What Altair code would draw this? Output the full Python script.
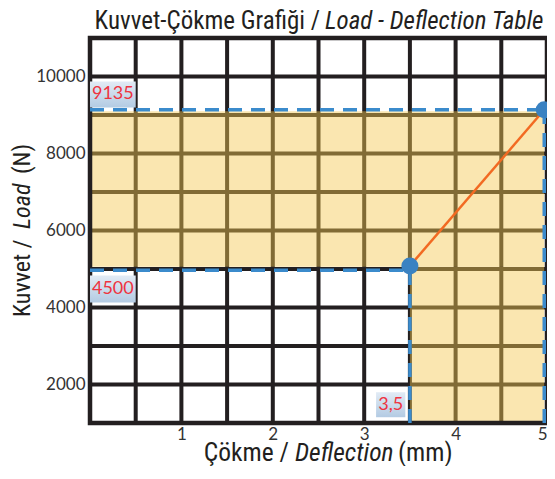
import altair as alt
import pandas as pd

# ---- data ----
x_ticks = [1, 2, 3, 4, 5]
y_ticks = [2000, 4000, 6000, 8000, 10000]
grid_x = [0.5, 1, 1.5, 2, 2.5, 3, 3.5, 4, 4.5]
grid_y = [2000, 3000, 4000, 5000, 6000, 7000, 8000, 9000, 10000]
x_domain = [0, 5]
y_domain = [1000, 11000]

# curve points (deflection mm, load N)
pt_x = [3.5, 4.97]
pt_y = [5080, 9135]

# shaded zones (x, x2, y, y2)
zone_x = [0, 3.5]
zone_x2 = [4.97, 4.97]
zone_y = [5060, 1000]
zone_y2 = [9100, 5060]

# dashed guide lines (x, x2, y, y2)
guide_x = [0, 4.97, 0, 3.5]
guide_x2 = [4.97, 4.97, 3.5, 3.5]
guide_y = [9135, 1000, 4970, 1000]
guide_y2 = [9135, 9135, 4970, 4970]

# annotation boxes
box_text = ["9135", "4500", "3,5"]
box_x = [0, 0, 3.13]
box_x2 = [0.5, 0.5, 3.45]
box_y = [9195, 4130, 1150]
box_y2 = [9870, 4830, 1800]

W, H = 457, 385
COND = "Roboto Condensed, DejaVu Sans Condensed, sans-serif"
INK = "#231f20"
FS = 25.5

xs = alt.Scale(domain=x_domain, nice=False, zero=False)
ys = alt.Scale(domain=y_domain, nice=False, zero=False)

base_axes = alt.Chart(pd.DataFrame({"x": [0], "y": [1000]})).mark_point(opacity=0).encode(
    x=alt.X("x:Q", scale=xs, axis=alt.Axis(values=x_ticks, format="d", title=None, ticks=False, domain=False,
                                           grid=False, labelFont="Lato", labelFontSize=17,
                                           labelColor="#333333", labelPadding=3)),
    y=alt.Y("y:Q", scale=ys, axis=alt.Axis(values=y_ticks, format="d", title=None, ticks=False, domain=False,
                                           grid=False, labelFont="Lato", labelFontSize=17,
                                           labelColor="#333333", labelPadding=5)),
)

gv = alt.Chart(pd.DataFrame({"x": grid_x})).mark_rule(color=INK, strokeWidth=4).encode(
    x=alt.X("x:Q", scale=xs), y=alt.datum(y_domain[0], scale=ys), y2=alt.datum(y_domain[1]))
gh = alt.Chart(pd.DataFrame({"y": grid_y})).mark_rule(color=INK, strokeWidth=4).encode(
    y=alt.Y("y:Q", scale=ys), x=alt.datum(x_domain[0], scale=xs), x2=alt.datum(x_domain[1]))

zones = alt.Chart(pd.DataFrame({"x": zone_x, "x2": zone_x2, "y": zone_y, "y2": zone_y2})).mark_rect(
    color="rgb(244,200,80)", opacity=0.45).encode(
    x=alt.X("x:Q", scale=xs), x2="x2:Q", y=alt.Y("y:Q", scale=ys), y2="y2:Q")

border = alt.Chart(pd.DataFrame({"a": [0]})).mark_rect(
    filled=False, stroke=INK, strokeWidth=4.5).encode(
    x=alt.datum(x_domain[0], scale=xs), x2=alt.datum(x_domain[1]),
    y=alt.datum(y_domain[0], scale=ys), y2=alt.datum(y_domain[1]))

guides = alt.Chart(pd.DataFrame({"x": guide_x, "x2": guide_x2, "y": guide_y, "y2": guide_y2})).mark_rule(
    color="#3b8bcc", strokeWidth=3.5, strokeDash=[14, 9]).encode(
    x=alt.X("x:Q", scale=xs), x2="x2:Q", y=alt.Y("y:Q", scale=ys), y2="y2:Q")

curve = alt.Chart(pd.DataFrame({"x": pt_x, "y": pt_y})).mark_line(color="#f26a22", strokeWidth=2.5).encode(
    x=alt.X("x:Q", scale=xs), y=alt.Y("y:Q", scale=ys))
pts = alt.Chart(pd.DataFrame({"x": pt_x, "y": pt_y})).mark_circle(color="#3a82c2", opacity=1, size=290).encode(
    x=alt.X("x:Q", scale=xs), y=alt.Y("y:Q", scale=ys))

boxdf = pd.DataFrame({"t": box_text, "x": box_x, "x2": box_x2, "y": box_y, "y2": box_y2})
boxdf["xm"] = (boxdf["x"] + boxdf["x2"]) / 2
boxdf["ym"] = (boxdf["y"] + boxdf["y2"]) / 2
grad = alt.Gradient(gradient="linear", stops=[alt.GradientStop(color="#e2ebf5", offset=0),
                                              alt.GradientStop(color="#b3cbe3", offset=1)],
                    x1=0, x2=0, y1=0, y2=1)
boxes = alt.Chart(boxdf).mark_rect(color=grad).encode(
    x=alt.X("x:Q", scale=xs), x2="x2:Q", y=alt.Y("y:Q", scale=ys), y2="y2:Q")
box_lbl = alt.Chart(boxdf).mark_text(font="Lato", fontSize=18, color="#ee3340", baseline="middle").encode(
    x=alt.X("xm:Q", scale=xs), y=alt.Y("ym:Q", scale=ys), text="t:N")


def txt(s, x, y, align, italic=False, angle=0, size=FS):
    kw = dict(font=COND, fontSize=size, color=INK, align=align, baseline="alphabetic")
    if italic:
        kw["fontStyle"] = "italic"
    if angle:
        kw["angle"] = angle
    return alt.Chart(pd.DataFrame({"t": [s]})).mark_text(**kw).encode(
        x=alt.value(x), y=alt.value(y), text="t:N")


texts = [
    txt("Kuvvet-Çökme Grafiği /", 230, -9, "right", size=25),
    txt("Load - Deflection Table", 235, -9, "left", True, size=25),
    txt("Çökme /", 199, 423, "right"),
    txt("Deflection", 205, 423, "left", True),
    txt("(mm)", 308, 423, "left"),
    txt("Kuvvet /", -60, 279, "left", angle=270, size=24),
    txt("Load", -60, 191, "left", True, angle=270, size=24),
    txt("(N)", -60, 136, "left", angle=270, size=24),
]

chart = alt.layer(base_axes, gv, gh, zones, border, guides, curve, pts, boxes, box_lbl, *texts).properties(
    width=W, height=H, autosize="none",
    padding={"left": 82, "top": 30, "right": 0, "bottom": 43},
).configure_view(stroke=None).configure(background="white")

chart.save("out.html", embed_options={"renderer": "svg", "actions": False})
